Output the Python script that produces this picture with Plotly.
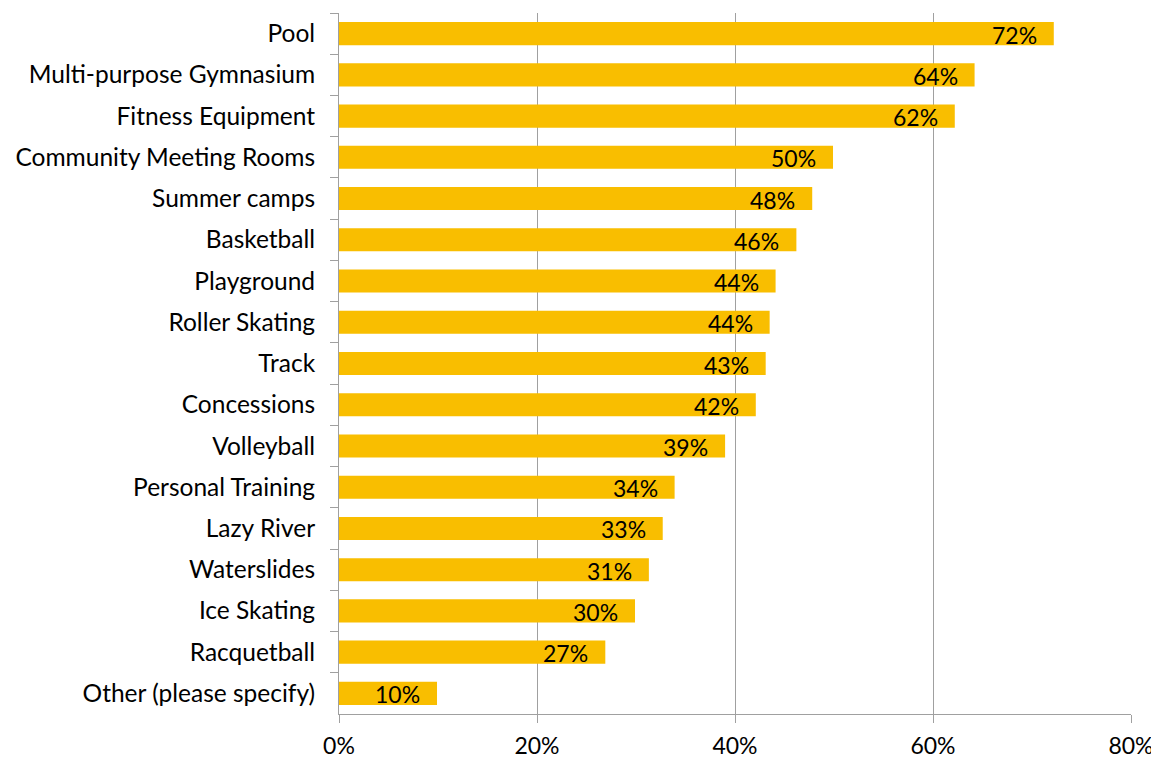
import plotly.graph_objects as go

categories = ["Pool", "Multi-purpose Gymnasium", "Fitness Equipment", "Community Meeting Rooms",
              "Summer camps", "Basketball", "Playground", "Roller Skating", "Track", "Concessions",
              "Volleyball", "Personal Training", "Lazy River", "Waterslides", "Ice Skating",
              "Racquetball", "Other (please specify)"]
values = [72.2, 64.2, 62.2, 49.9, 47.8, 46.2, 44.1, 43.5, 43.1, 42.1, 39.0, 33.9, 32.7, 31.3, 29.9, 26.9, 9.9]
labels = ["72%", "64%", "62%", "50%", "48%", "46%", "44%", "44%", "43%", "42%", "39%", "34%",
          "33%", "31%", "30%", "27%", "10%"]
x_ticks = [0, 20, 40, 60, 80]
x_ticklabels = ["0%", "20%", "40%", "60%", "80%"]

FONT = "Lato"
fig = go.Figure(go.Bar(
    y=categories, x=values, orientation="h",
    marker=dict(color="#F9BE00", line=dict(width=0)),
    textposition="none", hoverinfo="skip",
))

for c, v, t in zip(categories, values, labels):
    fig.add_annotation(x=v, y=c, text=t, showarrow=False, xanchor="right", xshift=-15,
                       yshift=-1, font=dict(family=FONT, size=23, color="#000000"))

# page body has an 8px default margin; compensate in figure size/margins
fig.update_layout(
    width=1151, height=752,
    margin=dict(l=331, r=28, t=5, b=46),
    paper_bgcolor="white", plot_bgcolor="white",
    bargap=0.44, showlegend=False,
    font=dict(family=FONT, size=24, color="#000000"),
)
fig.update_xaxes(range=[0, 80], tickvals=x_ticks, ticktext=x_ticklabels, automargin=False,
                 showgrid=True, gridcolor="#A0A0A0", gridwidth=1,
                 showline=True, linecolor="#A0A0A0", linewidth=1,
                 ticks="outside", ticklen=8, tickcolor="#A0A0A0", ticklabelstandoff=3,
                 zeroline=False, tickfont=dict(family=FONT, size=23))
fig.update_yaxes(categoryorder="array", categoryarray=categories, autorange="reversed",
                 automargin=False,
                 showline=True, linecolor="#A0A0A0", linewidth=1,
                 ticks="outside", ticklen=8, tickcolor="#A0A0A0", tickson="boundaries",
                 showgrid=False, ticklabelstandoff=18, tickfont=dict(family=FONT, size=24.5))

fig.write_html("out.html")
